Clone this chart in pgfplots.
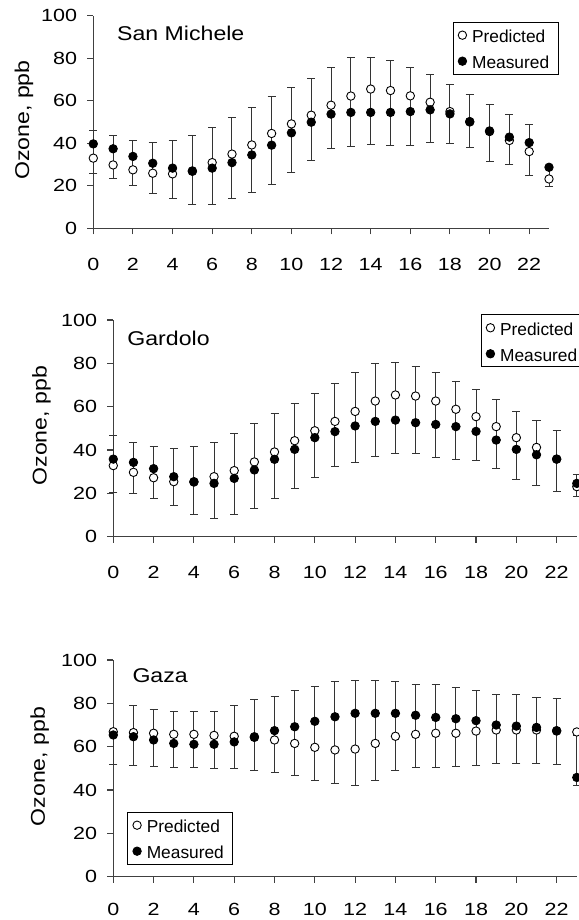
\documentclass[border=0pt]{standalone}
\usepackage{fontspec}
\setmainfont{Liberation Sans}
\newfontfamily\ticksf{Liberation Sans}[FakeStretch=1.22]
\newfontfamily\titlesf{Liberation Sans}[FakeStretch=1.16]
\usepackage{pgfplots}
\usepackage{pgfplotstable}
\pgfplotsset{compat=1.18}

% h = hour, pred/meas = means, lo/hi = visible ends of the bar
\pgfplotstableread{
h  pred meas lo   hi
0  33.0 39.7 25.9 46.0
1  29.8 37.4 23.5 43.6
2  27.5 33.8 20.1 41.4
3  25.9 30.6 16.5 40.5
4  25.6 28.3 13.8 41.4
5  27.0 26.8 11.3 43.6
6  30.9 28.3 11.3 47.4
7  34.9 30.9 13.8 52.3
8  39.2 34.5 17.0 56.8
9  44.6 39.1 20.7 62.0
10 49.1 44.9 26.2 66.2
11 53.2 49.9 31.9 70.6
12 57.9 53.7 37.4 75.4
13 62.2 54.5 38.5 80.1
14 65.5 54.5 39.6 80.5
15 64.8 54.5 38.9 79.0
16 62.3 54.9 38.9 75.8
17 59.3 55.7 40.5 72.2
18 54.9 53.8 40.0 67.5
19 50.0 50.2 38.1 62.8
20 45.5 45.8 31.4 58.4
21 41.3 42.9 29.8 53.4
22 36.1 40.3 24.8 48.7
23 23.2 28.7 19.6 28.7
}\sanmichele

\pgfplotstableread{
h  pred meas lo   hi
0  32.8 35.8 20.5 46.5
1  29.7 34.3 20.0 43.4
2  27.2 31.4 17.8 41.4
3  25.4 27.7 14.3 40.9
4  25.2 25.4 10.2 41.4
5  27.7 24.6 8.2  43.4
6  30.5 26.9 10.2 47.5
7  34.5 30.8 13.2 52.2
8  39.1 35.7 17.4 56.9
9  44.3 40.3 22.3 61.5
10 48.9 45.7 27.5 66.2
11 53.2 48.5 32.3 70.9
12 57.8 51.1 34.2 75.7
13 62.6 53.2 37.2 79.7
14 65.4 53.8 38.2 80.6
15 64.9 52.6 38.2 78.5
16 62.6 51.8 36.6 76.0
17 58.8 50.8 35.7 71.8
18 55.4 48.6 35.2 67.7
19 50.8 44.6 31.5 63.4
20 45.7 40.3 26.5 58.0
21 41.2 37.8 23.5 53.5
22 35.8 35.8 20.8 48.9
23 23.1 24.6 18.5 28.8
}\gardolo

\pgfplotstableread{
h  pred meas lo   hi
0  66.9 65.4 51.8 66.9
1  66.5 64.6 51.2 78.8
2  66.2 63.1 50.8 77.2
3  65.7 61.5 50.2 76.2
4  65.7 61.1 50.2 76.2
5  65.2 61.1 49.7 76.2
6  64.8 62.2 49.7 78.8
7  64.6 64.3 49.2 81.8
8  63.1 67.4 48.2 83.1
9  61.5 69.2 46.8 85.8
10 59.7 71.7 44.6 88.0
11 58.5 73.8 42.8 90.0
12 58.9 75.4 42.2 90.5
13 61.5 75.4 44.2 90.5
14 64.8 75.4 48.8 90.0
15 65.7 74.5 50.2 88.9
16 66.2 73.5 50.2 88.5
17 66.2 72.9 50.8 87.4
18 67.2 72.0 51.2 85.8
19 67.7 70.0 52.3 84.3
20 67.7 69.5 52.3 84.3
21 67.7 68.9 52.3 82.8
22 67.2 67.4 51.7 82.3
23 66.8 45.8 42.3 65.0
}\gaza

\pgfplotsset{
  ozone/.style={
    scale only axis, clip=false,
    xmin=0, xmax=23, ymin=0, ymax=100,
    axis x line=bottom, axis y line=left,
    axis line style={-, draw=black!75, line width=1.1bp},
    xtick={0,2,...,22}, ytick={0,20,...,100},
    tick align=outside, major tick length=6bp,
    tick style={draw=black!75, line width=1.1bp},
    /pgf/number format/assume math mode=true,
    ticklabel style={font=\ticksf\fontsize{17.7}{20}\selectfont},
    xticklabel style={anchor=center, inner sep=0pt, yshift=-30bp},
    yticklabel style={anchor=east, inner sep=0pt, xshift=-10bp},
    ylabel={Ozone, ppb},
    ylabel style={font=\titlesf\fontsize{20}{24}\selectfont, anchor=center},
    legend cell align=left,
    legend style={draw=black, line width=1bp, inner xsep=5bp, inner ysep=0bp,
      row sep=0bp, column sep=1.5bp, font=\fontsize{17.4}{20}\selectfont,
      nodes={inner sep=4bp, text height=16.7bp, text depth=1.3bp}},
    legend image code/.code={\draw[mark repeat=2,mark phase=2,##1] plot coordinates {(0bp,0bp) (5bp,0bp) (10bp,0bp)};},
  },
  pred/.style={only marks, mark=*, mark size=4.2bp,
    mark options={fill=white, draw=black, line width=0.9bp}},
  meas/.style={only marks, mark=*, mark size=4.2bp,
    mark options={fill=black, draw=black, line width=0.9bp}},
  bars/.style={forget plot, only marks, mark=none,
    error bars/.cd, y dir=both, y explicit,
    error bar style={draw=black!80, line width=1bp},
    error mark options={rotate=90, mark size=4bp, draw=black!80, line width=1bp}},
}

\newcommand{\panel}[1]{%
  \addplot[bars] table[x=h, y=pred,
    y error plus expr=\thisrow{hi}-\thisrow{pred},
    y error minus expr=\thisrow{pred}-\thisrow{lo}] {#1};
  \addplot[pred] table[x=h, y=pred] {#1};
  \addlegendentry{Predicted}
  \addplot[meas] table[x=h, y=meas] {#1};
  \addlegendentry{Measured}
}

\begin{document}
\begin{tikzpicture}
\useasboundingbox (0bp,0bp) rectangle (579bp,920bp);
\clip (0bp,0bp) rectangle (579bp,920bp);

\begin{axis}[ozone, at={(93.3bp,691.7bp)}, anchor=south west,
  width=455.7bp, height=212.6bp,
  ylabel style={at={([xshift=-69.3bp]axis description cs:0,0.509)}},
  legend style={at={(axis description cs:0.7887,0.9718)}, anchor=north west}]
  \panel{\sanmichele}
  \node[anchor=base west, inner sep=0pt, font=\titlesf\fontsize{20}{24}\selectfont]
    at (axis description cs:0.052,0.8843) {San Michele};
\end{axis}

\begin{axis}[ozone, at={(113.3bp,383.3bp)}, anchor=south west,
  width=463.5bp, height=216.7bp,
  ylabel style={at={([xshift=-71.8bp]axis description cs:0,0.512)}},
  legend style={at={(axis description cs:0.7927,1.0263)}, anchor=north west}]
  \panel{\gardolo}
  \node[anchor=base west, inner sep=0pt, font=\titlesf\fontsize{20}{24}\selectfont]
    at (axis description cs:0.030,0.8846) {Gardolo};
\end{axis}

\begin{axis}[ozone, at={(113.3bp,43.3bp)}, anchor=south west,
  width=463.5bp, height=216.7bp,
  xticklabel style={yshift=3bp},
  ylabel style={at={([xshift=-73.6bp]axis description cs:0,0.508)}},
  legend style={at={(axis description cs:0.0304,0.300)}, anchor=north west}]
  \panel{\gaza}
  \node[anchor=base west, inner sep=0pt, font=\titlesf\fontsize{20}{24}\selectfont]
    at (axis description cs:0.041,0.895) {Gaza};
\end{axis}
\end{tikzpicture}
\end{document}
